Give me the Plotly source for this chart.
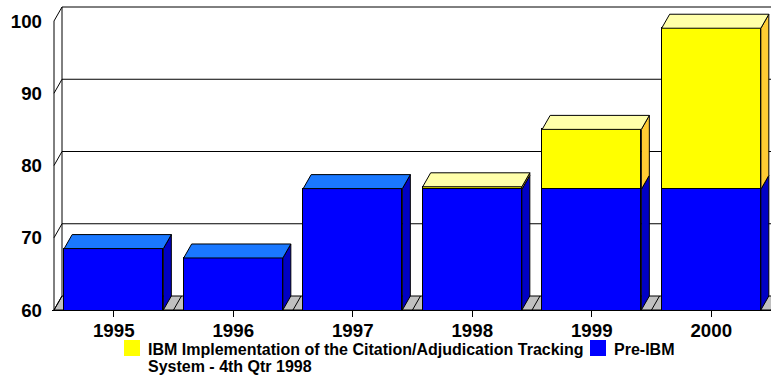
import plotly.graph_objects as go

# ---- data -------------------------------------------------------------
years = ["1995", "1996", "1997", "1998", "1999", "2000"]
pre_ibm = [68.5, 67.2, 76.8, 76.7, 76.7, 76.7]
ibm_impl = [0, 0, 0, 0.35, 8.3, 22.3]
y_ticks = [60, 70, 80, 90, 100]
legend_ibm = ["IBM Implementation of the Citation/Adjudication Tracking",
              "System - 4th Qtr 1998"]
legend_pre = "Pre-IBM"

# ---- geometry ---------------------------------------------------------
W, H = 771, 376
M_L, M_R, M_T, M_B = 52, 0, 5, 66
PLOT_W = W - M_L - M_R
PLOT_H = H - M_T - M_B
PX_PER_CAT = 119.5          # horizontal pixels per category
PX_PER_UNIT = 7.225         # vertical pixels per value unit
X_MIN = -0.5 - 2 / PX_PER_CAT
X_MAX = X_MIN + PLOT_W / PX_PER_CAT
Y_MIN = y_ticks[0]
Y_MAX = Y_MIN + PLOT_H / PX_PER_UNIT
DX = 8 / PX_PER_CAT         # depth offset, x (data units)
DY = 14 / PX_PER_UNIT       # depth offset, y (data units)
BAR_W = 0.83

BLUE, BLUE_TOP, BLUE_SIDE = "#0000FF", "#1A78FF", "#0000C4"
YEL, YEL_TOP, YEL_SIDE = "#FFFF00", "#FFFFAA", "#FFCC33"
FLOOR = "#C0C0C0"
FONT = "Liberation Sans, Arial, sans-serif"

idx = list(range(len(years)))


def path(pts):
    return "M " + " L ".join(f"{x},{y}" for x, y in pts) + " Z"


def line(x0, y0, x1, y1, layer="below"):
    return dict(type="line", xref="x", yref="y", x0=x0, y0=y0, x1=x1, y1=y1,
                line=dict(color="black", width=1), layer=layer)


shapes = []

# floor slab
front_l = -0.5
shapes.append(dict(type="path", xref="x", yref="y", layer="below",
                   path=path([(front_l, Y_MIN), (X_MAX + 1, Y_MIN),
                              (X_MAX + 1 + DX, Y_MIN + DY),
                              (front_l + DX, Y_MIN + DY)]),
                   fillcolor=FLOOR, line=dict(color="black", width=1)))
# floor category dividers
for k in idx:
    shapes.append(line(k + 0.5, Y_MIN, k + 0.5 + DX, Y_MIN + DY))

# back wall gridlines, left wall edges
for v in y_ticks[1:]:
    shapes.append(line(front_l + DX, v + DY, X_MAX + 1, v + DY))
for v in y_ticks:
    shapes.append(line(front_l, v, front_l + DX, v + DY))
shapes.append(line(front_l + DX, Y_MIN + DY, front_l + DX, y_ticks[-1] + DY))
shapes.append(line(front_l, Y_MIN, front_l, y_ticks[-1]))

# side and top faces of every column, derived from the stacked values
for i in idx:
    xl, xr = i - BAR_W / 2, i + BAR_W / 2
    segs = [(Y_MIN, pre_ibm[i], BLUE_SIDE, BLUE_TOP)]
    if ibm_impl[i]:
        segs.append((pre_ibm[i], pre_ibm[i] + ibm_impl[i], YEL_SIDE, YEL_TOP))
    for b, t, side_c, _ in segs:
        shapes.append(dict(type="path", xref="x", yref="y", layer="above",
                           path=path([(xr, b), (xr + DX, b + DY),
                                      (xr + DX, t + DY), (xr, t)]),
                           fillcolor=side_c, line=dict(color="black", width=1)))
    t, top_c = segs[-1][1], segs[-1][3]
    shapes.append(dict(type="path", xref="x", yref="y", layer="above",
                       path=path([(xl, t), (xr, t), (xr + DX, t + DY),
                                  (xl + DX, t + DY)]),
                       fillcolor=top_c, line=dict(color="black", width=1)))

fig = go.Figure()
fig.add_trace(go.Bar(x=idx, y=pre_ibm, width=BAR_W, name=legend_pre,
                     marker=dict(color=BLUE, line=dict(color="black", width=1)),
                     showlegend=False, hoverinfo="skip"))
fig.add_trace(go.Bar(x=idx, y=[v if v else None for v in ibm_impl], width=BAR_W,
                     name=" ".join(legend_ibm),
                     marker=dict(color=YEL, line=dict(color="black", width=1)),
                     showlegend=False, hoverinfo="skip"))


# legend drawn below the plot
def pxx(px):
    return (px - M_L) / PLOT_W


def pxy(py):
    return (H - M_B - py) / PLOT_H


for x0, x1, c in [(124, 140, YEL), (590, 606, BLUE)]:
    shapes.append(dict(type="rect", xref="paper", yref="paper",
                       x0=pxx(x0), x1=pxx(x1), y0=pxy(356), y1=pxy(340),
                       fillcolor=c, line=dict(width=0)))

leg_font = dict(family=FONT, size=16, color="black", weight="bold")
annotations = [
    dict(xref="paper", yref="paper", x=pxx(146), y=pxy(349), text=legend_ibm[0],
         xanchor="left", yanchor="middle", showarrow=False, font=leg_font),
    dict(xref="paper", yref="paper", x=pxx(146), y=pxy(367), text=legend_ibm[1],
         xanchor="left", yanchor="middle", showarrow=False, font=leg_font),
    dict(xref="paper", yref="paper", x=pxx(612), y=pxy(349), text=legend_pre,
         xanchor="left", yanchor="middle", showarrow=False, font=leg_font),
]

tick_font = dict(family=FONT, size=18.7, color="black", weight="bold")
fig.update_layout(
    width=W, height=H, margin=dict(l=M_L, r=M_R, t=M_T, b=M_B),
    barmode="stack", bargap=0, showlegend=False,
    paper_bgcolor="white", plot_bgcolor="white",
    shapes=shapes, annotations=annotations,
    xaxis=dict(range=[X_MIN, X_MAX], tickvals=idx, ticktext=years,
               showgrid=False, zeroline=False, showline=True, linecolor="black",
               linewidth=1, ticks="outside", ticklen=6, tickcolor="black",
               ticklabelstandoff=-2, tickfont=tick_font, fixedrange=True),
    yaxis=dict(range=[Y_MIN, Y_MAX], tickvals=y_ticks, showgrid=False,
               zeroline=False, showline=False, ticks="", ticklabelstandoff=9,
               tickfont=tick_font, fixedrange=True),
)

fig.write_html("out.html")
